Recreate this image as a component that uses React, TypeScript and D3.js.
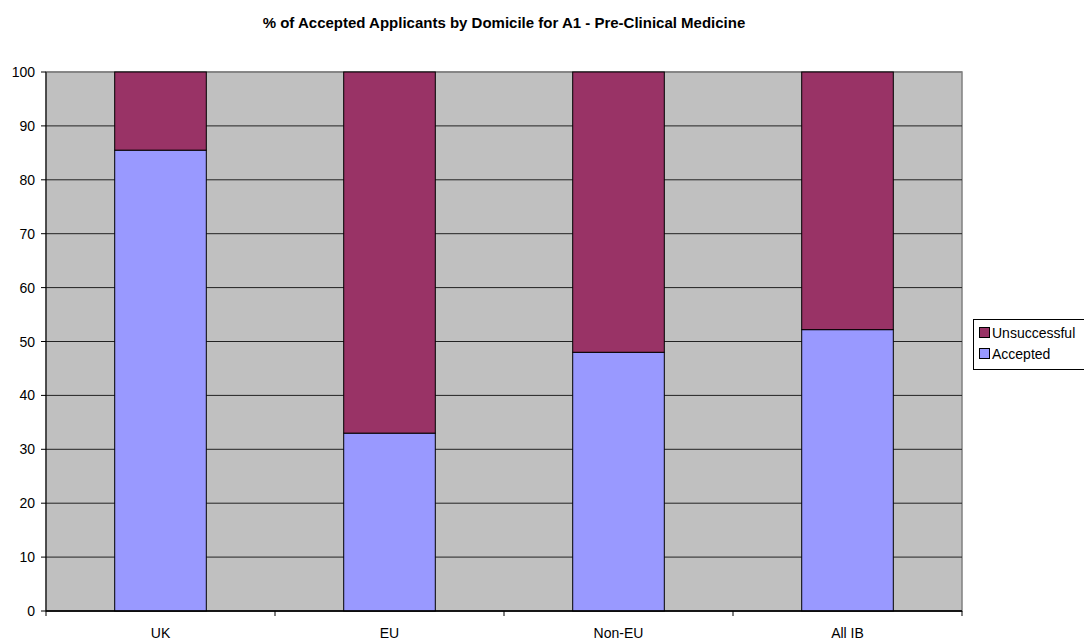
import * as d3 from "d3";

const categories = ["UK", "EU", "Non-EU", "All IB"];
const accepted = [85.5, 33, 48, 52.2];
const unsuccessful = [14.5, 67, 52, 47.8];
const yTicks = [0, 10, 20, 30, 40, 50, 60, 70, 80, 90, 100];
const seriesNames = ["Unsuccessful", "Accepted"];

const W = 1084;
const H = 643;
const plot = { left: 46, right: 962, top: 72, bottom: 611 };

export default function App() {
  const x = d3
    .scaleBand()
    .domain(categories)
    .range([plot.left, plot.right])
    .padding(0);
  const y = d3.scaleLinear().domain([0, 100]).range([plot.bottom, plot.top]);
  const barW = x.bandwidth() * 0.4;

  const rows = categories.map((c, i) => ({
    cat: c,
    Accepted: accepted[i],
    Unsuccessful: unsuccessful[i],
  }));
  const stacked = d3.stack<any>().keys(["Accepted", "Unsuccessful"])(rows);
  const colors: Record<string, string> = {
    Accepted: "#9999FF",
    Unsuccessful: "#993366",
  };

  const font = "Arial, 'Liberation Sans', sans-serif";

  return (
    <svg
      width={W}
      height={H}
      style={{ position: "absolute", left: 0, top: 0, background: "#fff" }}
      fontFamily={font}
    >
      <text
        x={504}
        y={28}
        textAnchor="middle"
        fontSize={15}
        fontWeight="bold"
        fill="#000"
      >
        % of Accepted Applicants by Domicile for A1 - Pre-Clinical Medicine
      </text>

      {/* plot background */}
      <rect
        x={plot.left}
        y={plot.top}
        width={plot.right - plot.left}
        height={plot.bottom - plot.top}
        fill="#C0C0C0"
        stroke="#808080"
        strokeWidth={1.5}
      />

      {/* gridlines */}
      {yTicks.map((t) => (
        <line
          key={`g-${t}`}
          x1={plot.left}
          x2={plot.right}
          y1={y(t)}
          y2={y(t)}
          stroke={t === 100 ? "#808080" : "#222"}
          strokeWidth={t === 100 ? 1.5 : 1}
        />
      ))}

      {/* bars */}
      {stacked.map((s) =>
        s.map((d, i) => (
          <rect
            key={`${s.key}-${i}`}
            x={(x(categories[i]) || 0) + (x.bandwidth() - barW) / 2}
            y={y(d[1])}
            width={barW}
            height={y(d[0]) - y(d[1])}
            fill={colors[s.key]}
            stroke="#000"
            strokeWidth={1}
          />
        ))
      )}

      {/* axes */}
      <line
        x1={plot.left}
        x2={plot.left}
        y1={plot.top}
        y2={plot.bottom}
        stroke="#000"
      />
      <line
        x1={plot.left}
        x2={plot.right}
        y1={plot.bottom}
        y2={plot.bottom}
        stroke="#000"
        strokeWidth={1.5}
      />
      {yTicks.map((t) => (
        <g key={`yt-${t}`}>
          <line
            x1={plot.left - 5}
            x2={plot.left}
            y1={y(t)}
            y2={y(t)}
            stroke="#000"
          />
          <text
            x={plot.left - 11}
            y={y(t)}
            textAnchor="end"
            dominantBaseline="central"
            fontSize={14}
            fill="#000"
          >
            {t}
          </text>
        </g>
      ))}
      {[...categories.map((c) => x(c) || 0), plot.right].map((px, i) => (
        <line
          key={`xt-${i}`}
          x1={px}
          x2={px}
          y1={plot.bottom}
          y2={plot.bottom + 5}
          stroke="#000"
        />
      ))}
      {categories.map((c) => (
        <text
          key={`xl-${c}`}
          x={(x(c) || 0) + x.bandwidth() / 2}
          y={633}
          textAnchor="middle"
          dominantBaseline="central"
          fontSize={14}
          fill="#000"
        >
          {c}
        </text>
      ))}

      {/* legend */}
      <rect
        x={973.5}
        y={319.5}
        width={120}
        height={50}
        fill="#fff"
        stroke="#000"
      />
      {seriesNames.map((n, i) => (
        <g key={`lg-${n}`} transform={`translate(979, ${332 + i * 21})`}>
          <rect
            x={0.5}
            y={-4.5}
            width={10}
            height={10}
            fill={colors[n]}
            stroke="#000"
          />
          <text
            x={13}
            y={0.5}
            dominantBaseline="central"
            fontSize={14}
            fill="#000"
          >
            {n}
          </text>
        </g>
      ))}
    </svg>
  );
}
